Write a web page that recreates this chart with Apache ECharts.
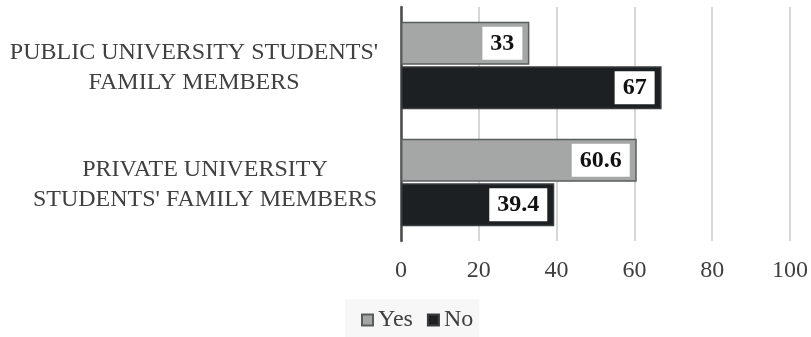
<!DOCTYPE html>
<html>
<head>
<meta charset="utf-8">
<script src="https://cdn.jsdelivr.net/npm/echarts@6/dist/echarts.min.js"></script>
<style>
  html, body { margin: 0; padding: 0; background: #ffffff; }
  #chart { width: 811px; height: 337px; }
</style>
</head>
<body>
<div id="chart"></div>
<script>
// Survey answers by group (percent)
const categories = [
  "PUBLIC UNIVERSITY STUDENTS'\nFAMILY MEMBERS",
  "PRIVATE UNIVERSITY\nSTUDENTS' FAMILY MEMBERS"
];
const yesValues = [33, 60.6];
const noValues = [67, 39.4];
const xTicks = [0, 20, 40, 60, 80, 100];

const serif = '"Liberation Serif", "Times New Roman", serif';

const valueLabel = {
  show: true,
  position: 'insideRight',
  distance: 7,
  color: '#111111',
  fontFamily: serif,
  fontWeight: 'bold',
  fontSize: 24,
  backgroundColor: '#ffffff',
  padding: [6, 8, 3, 8]
};

const chart = echarts.init(document.getElementById('chart'), null, { renderer: 'canvas' });
chart.setOption({
  animation: false,
  textStyle: { fontFamily: serif },
  grid: { left: 401, right: 20, top: 7, bottom: 96, containLabel: false },
  xAxis: {
    type: 'value',
    min: xTicks[0],
    max: xTicks[xTicks.length - 1],
    interval: 20,
    axisLine: { show: false },
    axisTick: { show: false },
    splitLine: { show: true, lineStyle: { color: '#c9c9c9', width: 1.5 } },
    axisLabel: {
      color: '#404040',
      fontFamily: serif,
      fontSize: 24,
      margin: 18,
      formatter: (v) => xTicks.includes(v) ? String(v) : ''
    }
  },
  yAxis: {
    type: 'category',
    data: categories,
    inverse: true,
    axisLine: { show: true, lineStyle: { color: '#4a4a4a', width: 2.5 } },
    axisTick: { show: false },
    axisLabel: {
      color: '#404040',
      fontFamily: serif,
      fontSize: 24,
      lineHeight: 30,
      align: 'center',
      margin: 202,
      // each wrapped label sits at its own centre line
      formatter: (v, i) => (i === 0 ? '{pub|' : '{pri|') + v + '}',
      rich: {
        pub: { fontFamily: serif, fontSize: 24, lineHeight: 30, color: '#404040', padding: [4, 10, 0, 0] },
        pri: { fontFamily: serif, fontSize: 24, lineHeight: 30, color: '#404040', padding: [4, 0, 0, 12] }
      }
    }
  },
  legend: {
    data: ['Yes', 'No'],
    bottom: -3,
    left: 345,
    backgroundColor: '#f7f7f7',
    padding: [9, 6, 8, 16],
    itemWidth: 11,
    itemHeight: 11,
    itemGap: 14,
    icon: 'rect',
    textStyle: { color: '#404040', fontFamily: serif, fontSize: 24 }
  },
  series: [
    {
      name: 'Yes',
      type: 'bar',
      data: yesValues,
      barWidth: 43,
      barGap: '3%',
      itemStyle: { color: '#a5a7a7', borderColor: '#5a5d5e', borderWidth: 1.5 },
      label: valueLabel
    },
    {
      name: 'No',
      type: 'bar',
      data: noValues,
      barWidth: 43,
      barGap: '3%',
      itemStyle: { color: '#1d2022', borderColor: '#3a3d3f', borderWidth: 1.5 },
      label: valueLabel
    }
  ]
});
</script>
</body>
</html>
